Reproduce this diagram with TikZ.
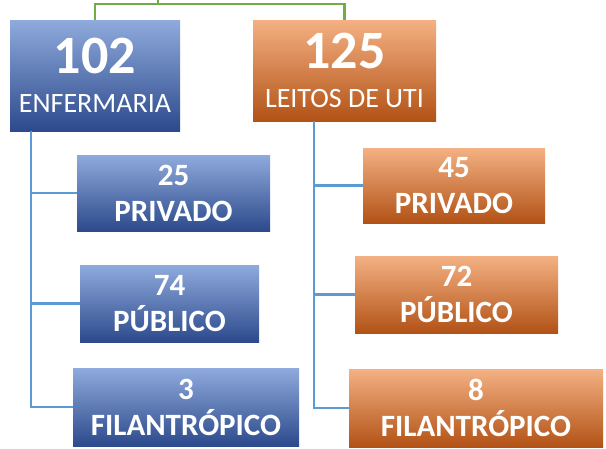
\documentclass[tikz,border=0pt]{standalone}
\usepackage{fontspec}
\setmainfont{Carlito}
\usepackage{xcolor}
\usepackage{tikz}
\usetikzlibrary{positioning,calc}

\definecolor{bluetop}{RGB}{143,170,220}
\definecolor{bluemid}{RGB}{68,114,196}
\definecolor{bluebot}{RGB}{44,74,140}
\definecolor{orgtop}{RGB}{244,177,131}
\definecolor{orgmid}{RGB}{237,125,49}
\definecolor{orgbot}{RGB}{178,82,22}
\definecolor{rootgreen}{RGB}{112,173,71}
\definecolor{linkblue}{RGB}{91,155,213}

\tikzset{
  bluebox/.style={shading=axis, top color=bluetop, middle color=bluemid, bottom color=bluebot,
    inner sep=0pt, text=white, align=center},
  orgbox/.style={shading=axis, top color=orgtop, middle color=orgmid, bottom color=orgbot,
    inner sep=0pt, text=white, align=center},
  bigfont/.style={font=\fontsize{28}{39}\selectfont},
  smallfont/.style={font=\fontsize{31}{36}\selectfont\bfseries},
  rootline/.style={draw=rootgreen, line width=2.2pt},
  linkline/.style={draw=linkblue, line width=2.2pt}
}

\newcommand{\bignum}[1]{{\fontsize{54}{39}\selectfont\bfseries #1}}

\begin{document}
\begin{tikzpicture}[x=1pt,y=-1pt]
    \useasboundingbox (0,0) rectangle (606,448);

    % Main boxes
    \node[bluebox, bigfont, minimum width=170pt, minimum height=111pt] (enf) at (95,75.5)
        {\bignum{102}\\ENFERMARIA};
    \node[orgbox, bigfont, minimum width=183pt, minimum height=101pt] (uti) at (344.5,70.5)
        {\bignum{125}\\LEITOS DE UTI};

    % Enfermaria children
    \node[bluebox, smallfont, minimum width=193pt, minimum height=76pt] (enfPriv) at (173.5,193)
        {25\\PRIVADO};
    \node[bluebox, smallfont, minimum width=179pt, minimum height=77pt] (enfPub) at (169.5,303.5)
        {74\\PÚBLICO};
    \node[bluebox, smallfont, minimum width=226pt, minimum height=78pt] (enfFil) at (186,407)
        {3\\FILANTRÓPICO};

    % UTI children
    \node[orgbox, smallfont, minimum width=182pt, minimum height=75pt] (utiPriv) at (454,185.5)
        {45\\PRIVADO};
    \node[orgbox, smallfont, minimum width=203pt, minimum height=77pt] (utiPub) at (456.5,294.5)
        {72\\PÚBLICO};
    \node[orgbox, smallfont, minimum width=254pt, minimum height=78pt] (utiFil) at (476,408)
        {8\\FILANTRÓPICO};

    % Root connector
    \coordinate (root) at (158,0);
    \coordinate (fork) at (158,4);
    \draw[rootline] (root) -- (fork) -| (enf.north);
    \draw[rootline] (fork) -| (uti.north);

    % Trunks
    \coordinate (enfTrunk) at ([xshift=21pt]enf.south west);
    \coordinate (utiTrunk) at ([xshift=61pt]uti.south west);
    \draw[linkline] (enfTrunk) |- (enfPriv.west);
    \draw[linkline] (enfTrunk) |- (enfPub.west);
    \draw[linkline] (enfTrunk) |- (enfFil.west);
    \draw[linkline] (utiTrunk) |- (utiPriv.west);
    \draw[linkline] (utiTrunk) |- (utiPub.west);
    \draw[linkline] (utiTrunk) |- (utiFil.west);
\end{tikzpicture}
\end{document}
